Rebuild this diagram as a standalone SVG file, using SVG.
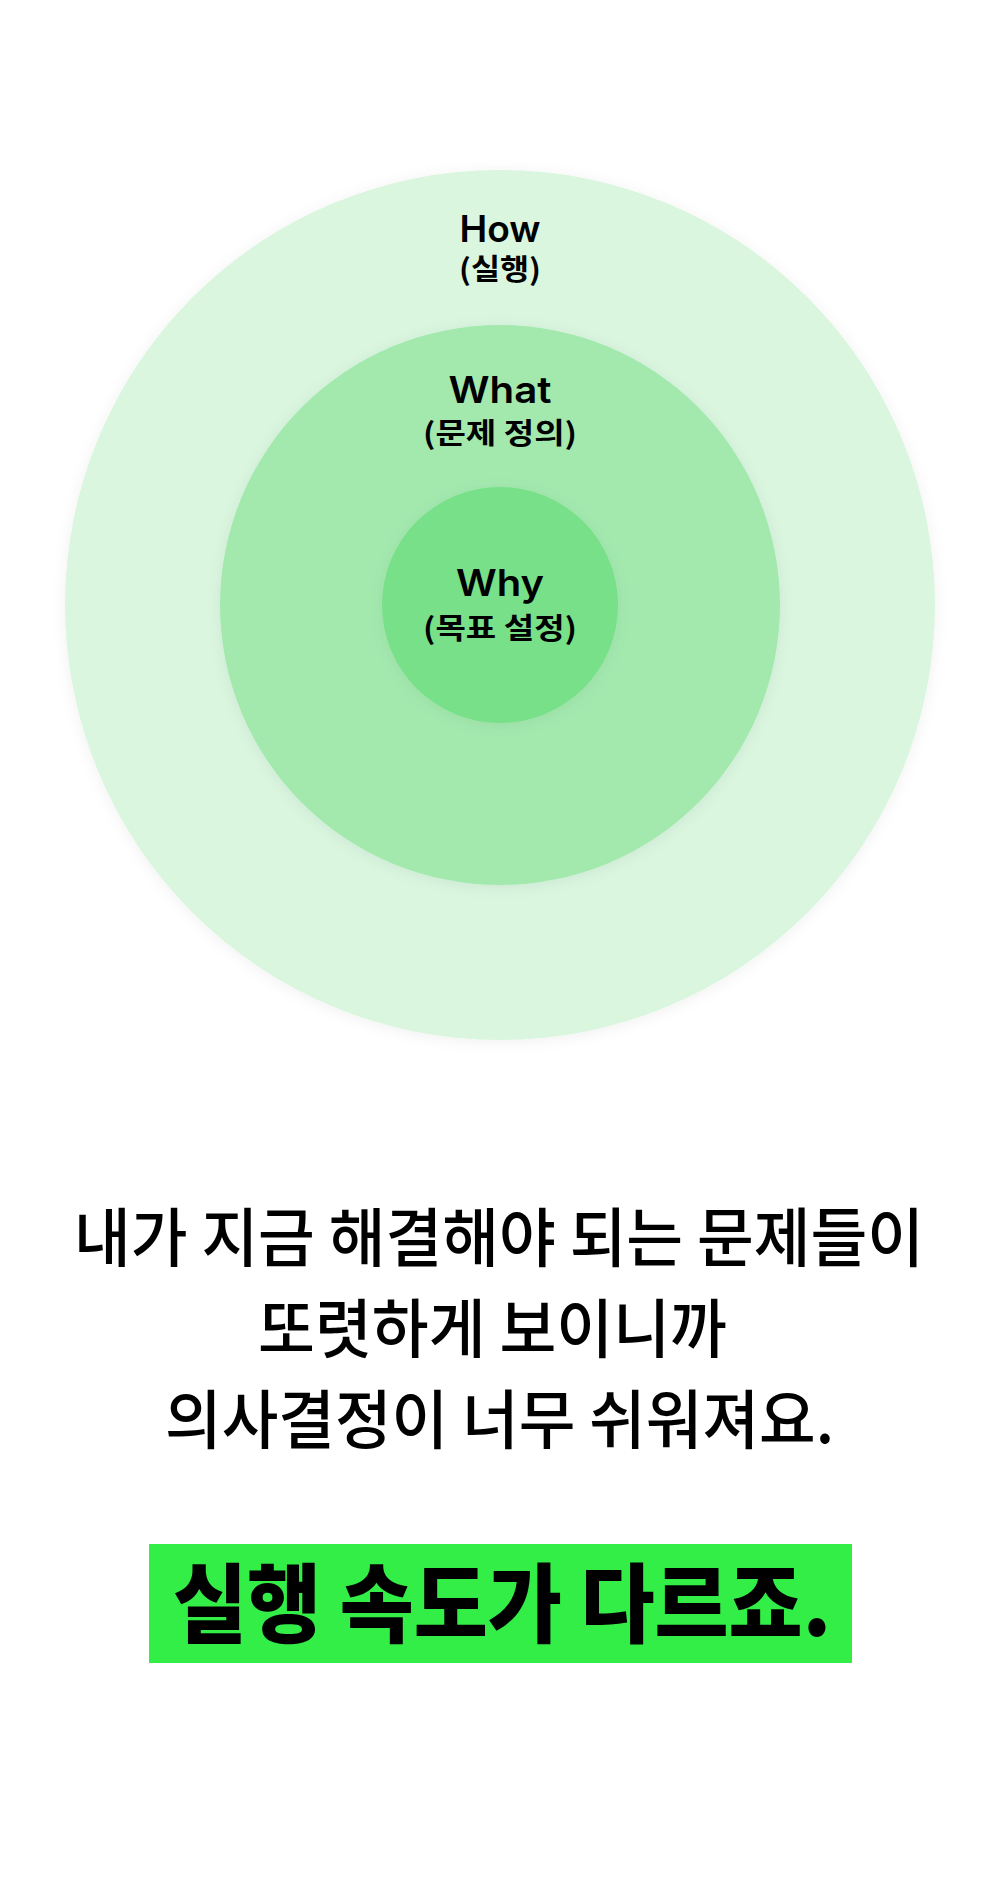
<svg xmlns="http://www.w3.org/2000/svg" width="1000" height="1902" viewBox="0 0 1000 1902">
  <style>
    .lbl { font-family: Inter, "Noto Sans", "Noto Sans CJK KR", sans-serif; font-weight: 600; font-size: 37px; fill: #000; text-anchor: middle; }
    .sub { font-family: "Noto Sans CJK KR", "Noto Sans", sans-serif; font-weight: 700; font-size: 29px; fill: #000; text-anchor: middle; }
    .body { font-family: "Noto Sans CJK KR", "Noto Sans", sans-serif; font-weight: 500; font-size: 64px; fill: #000; }
    .big { font-family: "Noto Sans CJK KR", "Noto Sans", sans-serif; font-weight: 900; font-size: 86px; fill: #000; }
  </style>
  <defs>
    <filter id="shadow" x="-20%" y="-20%" width="140%" height="140%">
      <feDropShadow dx="0" dy="2" stdDeviation="7" flood-color="#000000" flood-opacity="0.06"/>
    </filter>
  </defs>
  <rect x="0" y="0" width="1000" height="1902" fill="#ffffff"/>
  <g id="how">
    <circle cx="500" cy="605" r="435" fill="#daf6df" filter="url(#shadow)"/>
    <text class="lbl" x="500" y="241.5" textLength="81" lengthAdjust="spacingAndGlyphs">How</text>
    <text class="sub" x="500" y="280" textLength="82" lengthAdjust="spacingAndGlyphs">(실행)</text>
  </g>
  <g id="what">
    <circle cx="500" cy="605" r="280" fill="#a3e9ae" filter="url(#shadow)"/>
    <text class="lbl" x="500" y="402.5" textLength="103" lengthAdjust="spacingAndGlyphs">What</text>
    <text class="sub" x="500" y="444" textLength="154" lengthAdjust="spacingAndGlyphs">(문제 정의)</text>
  </g>
  <g id="why">
    <circle cx="500" cy="605" r="118" fill="#77e088" filter="url(#shadow)"/>
    <text class="lbl" x="500" y="596" textLength="88" lengthAdjust="spacingAndGlyphs">Why</text>
    <text class="sub" x="500" y="639" textLength="154" lengthAdjust="spacingAndGlyphs">(목표 설정)</text>
  </g>
  <g id="connectors"></g>
  <g id="caption">
    <text class="body" x="74" y="1261" textLength="850" lengthAdjust="spacingAndGlyphs">내가 지금 해결해야 되는 문제들이</text>
    <text class="body" x="258" y="1352" textLength="469" lengthAdjust="spacingAndGlyphs">또렷하게 보이니까</text>
    <text class="body" x="165" y="1443" textLength="669" lengthAdjust="spacingAndGlyphs">의사결정이 너무 쉬워져요.</text>
  </g>
  <g id="highlight">
    <rect x="149" y="1544" width="703" height="119" fill="#33ee46"/>
    <text class="big" x="173" y="1636" textLength="658" lengthAdjust="spacingAndGlyphs">실행 속도가 다르죠.</text>
  </g>
</svg>
